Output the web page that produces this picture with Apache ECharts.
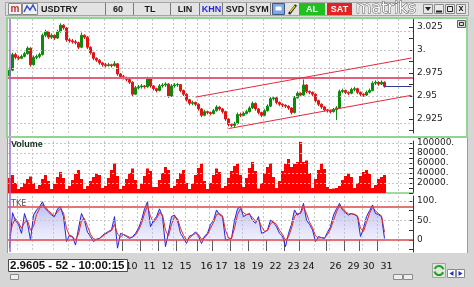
<!DOCTYPE html>
<html><head><meta charset="utf-8">
<script src="https://cdn.jsdelivr.net/npm/echarts@6/dist/echarts.min.js"></script>
<style>html,body{margin:0;padding:0;background:#d6d6d6}#c{width:474px;height:287px}</style>
</head><body><div id="c"></div>
<script>
// ---------- DATA ----------
// [open, close, low, high] per 60-min bar
const candles = [
[2.972,2.978,2.970,2.981],[2.978,2.995,2.977,2.997],[2.995,2.992,2.990,2.997],[2.992,2.991,2.989,2.994],
[2.991,2.993,2.990,2.995],[2.993,2.996,2.992,2.998],[2.996,3.002,2.995,3.004],[3.002,2.984,2.982,3.003],
[2.984,2.992,2.983,2.994],[2.992,2.993,2.990,2.995],[2.993,2.995,2.991,2.997],[2.995,3.016,2.994,3.018],
[3.016,3.020,3.014,3.022],[3.020,3.014,3.012,3.021],[3.014,3.016,3.012,3.018],[3.016,3.013,3.011,3.017],
[3.013,3.020,3.012,3.022],[3.020,3.027,3.019,3.029],[3.027,3.024,3.022,3.028],[3.024,3.011,3.009,3.025],
[3.011,3.010,3.008,3.013],[3.010,3.009,3.007,3.012],[3.009,3.008,3.006,3.011],[3.008,3.003,3.001,3.009],
[3.003,3.016,3.002,3.019],[3.016,3.014,3.012,3.017],[3.014,3.003,3.001,3.015],[3.003,2.997,2.995,3.004],
[2.997,2.991,2.989,2.998],[2.991,2.989,2.987,2.992],[2.989,2.986,2.984,2.990],[2.986,2.984,2.982,2.987],
[2.984,2.983,2.981,2.986],[2.983,2.984,2.982,2.986],[2.984,2.983,2.981,2.985],[2.983,2.985,2.982,2.988],
[2.985,2.974,2.972,2.986],[2.974,2.971,2.969,2.975],[2.971,2.970,2.968,2.973],[2.970,2.968,2.966,2.971],
[2.968,2.965,2.963,2.969],[2.965,2.952,2.950,2.966],[2.952,2.959,2.951,2.961],[2.959,2.960,2.957,2.962],
[2.960,2.961,2.958,2.963],[2.961,2.960,2.958,2.962],[2.960,2.969,2.959,2.971],[2.969,2.961,2.959,2.970],
[2.961,2.958,2.956,2.962],[2.958,2.956,2.954,2.959],[2.956,2.961,2.955,2.963],[2.961,2.962,2.959,2.964],
[2.962,2.963,2.960,2.965],[2.963,2.950,2.948,2.964],[2.950,2.961,2.949,2.963],[2.961,2.962,2.959,2.964],
[2.962,2.9625,2.960,2.964],[2.9625,2.956,2.954,2.963],[2.956,2.952,2.950,2.957],[2.952,2.946,2.944,2.953],
[2.946,2.942,2.940,2.947],[2.942,2.943,2.940,2.945],[2.943,2.941,2.939,2.944],[2.941,2.936,2.934,2.942],
[2.936,2.929,2.927,2.937],[2.929,2.933,2.928,2.935],[2.933,2.932,2.930,2.934],[2.932,2.931,2.929,2.933],
[2.931,2.934,2.930,2.936],[2.934,2.938,2.933,2.940],[2.938,2.936,2.934,2.939],[2.936,2.933,2.931,2.937],
[2.933,2.925,2.923,2.934],[2.925,2.919,2.917,2.926],[2.919,2.918,2.916,2.920],[2.918,2.920,2.916,2.922],
[2.920,2.930,2.919,2.932],[2.930,2.929,2.927,2.932],[2.929,2.931,2.928,2.933],[2.931,2.933,2.930,2.935],
[2.933,2.937,2.932,2.939],[2.937,2.942,2.936,2.944],[2.942,2.936,2.934,2.943],[2.936,2.932,2.930,2.937],
[2.932,2.929,2.927,2.933],[2.929,2.934,2.928,2.936],[2.934,2.939,2.933,2.941],[2.939,2.947,2.938,2.949],
[2.947,2.948,2.945,2.950],[2.948,2.943,2.941,2.949],[2.943,2.941,2.939,2.944],[2.941,2.940,2.938,2.942],
[2.940,2.939,2.937,2.941],[2.939,2.937,2.935,2.940],[2.937,2.932,2.930,2.938],[2.932,2.948,2.931,2.950],
[2.948,2.953,2.947,2.955],[2.953,2.951,2.949,2.954],[2.951,2.962,2.950,2.968],[2.962,2.955,2.953,2.963],
[2.955,2.954,2.952,2.956],[2.954,2.952,2.950,2.955],[2.952,2.945,2.943,2.953],[2.945,2.941,2.939,2.946],
[2.941,2.938,2.936,2.942],[2.938,2.935,2.933,2.939],[2.935,2.934,2.932,2.936],[2.934,2.933,2.931,2.935],
[2.933,2.935,2.932,2.937],[2.935,2.937,2.924,2.939],[2.937,2.955,2.936,2.957],[2.955,2.956,2.953,2.958],
[2.956,2.954,2.952,2.957],[2.954,2.953,2.951,2.955],[2.953,2.957,2.952,2.959],[2.957,2.958,2.955,2.960],
[2.958,2.954,2.952,2.959],[2.954,2.952,2.950,2.955],[2.952,2.951,2.949,2.953],[2.951,2.954,2.950,2.956],
[2.954,2.956,2.953,2.958],[2.956,2.964,2.955,2.966],[2.964,2.965,2.962,2.967],[2.965,2.963,2.961,2.966],
[2.963,2.965,2.962,2.967],[2.965,2.9605,2.959,2.966]
];
const volumes = [
30000,36000,20000,8000,12000,20000,28000,33000,20000,8000,16000,28000,36000,24000,8000,18000,32000,42000,30000,8000,
14000,26000,38000,46000,28000,8000,14000,24000,32000,39000,36000,10000,14000,30000,46000,59000,34000,8000,14000,28000,
40000,49000,26000,8000,18000,34000,49000,44000,12000,12000,26000,40000,52000,46000,10000,14000,28000,40000,46000,20000,
8000,18000,36000,50000,59000,24000,8000,20000,36000,49000,42000,10000,14000,30000,44000,54000,59000,36000,12000,30000,
50000,62000,44000,9000,20000,40000,52000,59000,32000,10000,24000,44000,58000,68000,52000,58000,62000,102000,62000,65000,
40000,10000,28000,46000,59000,48000,12000,8000,9000,10000,14000,26000,34000,39000,32000,10000,20000,34000,42000,46000,
38000,10000,16000,28000,32000,36000
];
const tke = [
-20,70,50,40,17,68,43,0,64,77,85,98,80,72,64,60,80,85,60,-4,
12,9,-13,30,68,50,20,9,-4,2,4,12,17,22,26,60,-21,17,14,9,
4,8,17,30,51,80,98,34,50,60,80,60,-17,20,60,64,50,17,5,-9,
10,13,21,10,-9,10,17,40,50,77,65,60,0,2,4,50,80,85,60,65,
68,50,43,60,17,20,26,51,45,34,17,10,-17,17,40,77,64,70,94,51,
40,26,-4,9,6,4,20,34,64,80,94,77,70,64,68,65,60,9,30,60,
75,90,68,65,60,4
];
const tkeSignal = [
10,40,55,45,30,45,50,25,35,65,80,90,85,75,68,62,72,80,70,30,
10,8,0,15,50,55,35,15,3,1,4,9,15,20,24,40,15,8,14,11,
7,7,13,25,42,68,88,60,45,55,70,65,25,10,40,60,55,30,12,0,
5,12,17,14,2,5,14,30,45,65,68,62,25,5,4,30,65,80,70,65,
66,58,48,52,35,22,24,42,46,40,25,14,0,8,30,60,68,68,85,68,
46,32,10,5,6,5,14,28,50,72,88,82,73,67,67,66,62,30,22,45,
68,84,75,67,62,20
];
const priceTicks = [2.925, 2.95, 2.975, 3, 3.025];
const priceTickMarks = [2.9125, 2.925, 2.9375, 2.95, 2.9625, 2.975, 2.9875, 3, 3.0125, 3.025];
const volumeTicks = [0, 20000, 40000, 60000, 80000, 100000];
const volumeTickMarks = [0, 10000, 20000, 30000, 40000, 50000, 60000, 70000, 80000, 90000, 100000];
const tkeTicks = [0, 50, 100];
const tkeTickMarks = [-25, 0, 25, 50, 75, 100];
const resistance = 2.969;
const lastPrice = 2.9605;
const channelUpper = [[62, 2.9488], [134, 2.9913]];
const channelLower = [[73, 2.9146], [134, 2.9508]];
const tkeLevels = [84, 0];
const dayTickIdx = [38, 44, 50, 56, 63, 68, 74, 80, 86, 92, 97, 106, 112, 117, 123];
const dayLabels = ['10','11','12','15','16','17','18','19','22','23','24','26','29','30','31'];
const gridIdx = [3, 8, 15, 20, 27, 32, 38, 43, 48, 55, 59, 63, 67, 73, 78, 85, 91, 97, 102, 107, 112, 118, 123, 130];
const statusText = '2.9605 - 52 - 10:00:15';

// ---------- CHART ----------
const chart = echarts.init(document.getElementById('c'), null, {width: 474, height: 287});
const SLOTS = candles.length + 9;
const cats = Array.from({length: SLOTS}, (_, i) => String(i));
const gridSet = new Set(gridIdx);
const labelMap = {};
dayTickIdx.forEach((k, j) => { labelMap[k] = dayLabels[j]; });
const fmt = v => v === 0 ? '0' : (Number.isInteger(v) ? v + '.' : String(+(+v).toFixed(4)));
const splitX = {show: true, interval: (i) => gridSet.has(i), lineStyle: {color: '#c6c6c6', type: [2, 2], width: 1}};
const dash = {color: '#c6c6c6', type: [2, 2], width: 1};
const axLabel = {fontSize: 9, fontFamily: 'DejaVu Sans', color: '#222', margin: 4};
const yBase = (idx, min, max, ticks, marks) => ({
  type: 'value', gridIndex: idx, position: 'right', min, max,
  axisLine: {show: true, lineStyle: {color: '#333'}},
  axisTick: {show: true, inside: true, length: 4, customValues: marks, lineStyle: {color: '#333'}},
  axisLabel: Object.assign({customValues: ticks, formatter: fmt}, axLabel),
  splitLine: {show: false}
});

const T = (x, y, text, o) => ({type: 'text', x, y, z: 100, silent: true,
  style: Object.assign({text, font: 'bold 9px "Liberation Sans"', fill: '#1a1a1a', align: 'center', verticalAlign: 'middle', textAlign: 'center', textVerticalAlign: 'middle'}, o || {})});
const R = (x, y, w, h, fill, stroke, z) => ({type: 'rect', z: z == null ? 99 : z, silent: true, shape: {x, y, width: w, height: h}, style: {fill: fill || null, stroke: stroke || null, lineWidth: 1}});
const L = (x1, y1, x2, y2, c, w, z) => ({type: 'line', z: z == null ? 99 : z, silent: true, shape: {x1, y1, x2, y2}, style: {stroke: c, lineWidth: w || 1}});
const P = (pts, fill, z) => ({type: 'polygon', z: z == null ? 100 : z, silent: true, shape: {points: pts}, style: {fill}});

const graphics = [
  R(8, 18, 459, 235, '#ffffff', null, -10),
  // toolbar
  R(0, 0, 474, 17, '#d9d9d9', null, 90),
  R(5.5, 2.5, 463, 13, '#e3e3e3', '#a5a5a5', 91),
  R(8.5, 3.5, 13, 11, '#f2f2f2', '#8a8a8a'),
  T(15, 9, 'm', {font: 'bold 10px "Liberation Sans"', fill: '#c03030'}),
  R(22.5, 3.5, 15, 11, '#f2f2f2', '#8a8a8a'),
  {type: 'polyline', z: 100, silent: true, shape: {points: [[24, 12], [27, 6], [30, 10], [33, 5], [36, 11]]}, style: {stroke: '#3050d0', lineWidth: 1.5, fill: null}},
  T(41, 9.5, 'USDTRY', {align: 'left', textAlign: 'left'}),
  L(105.5, 3, 105.5, 15, '#7a7a7a'), L(133.5, 3, 133.5, 15, '#7a7a7a'), L(170.5, 3, 170.5, 15, '#7a7a7a'),
  L(199.5, 3, 199.5, 15, '#7a7a7a'), L(222.5, 3, 222.5, 15, '#7a7a7a'), L(246.5, 3, 246.5, 15, '#7a7a7a'),
  L(270.5, 3, 270.5, 15, '#7a7a7a'),
  T(118, 9.5, '60'), T(150, 9.5, 'TL'), T(185, 9.5, 'LIN'), T(211.5, 9.5, 'KHN', {fill: '#2828e0'}),
  T(235, 9.5, 'SVD'), T(259, 9.5, 'SYM'),
  R(272.5, 3.5, 12, 11, '#7aa8e8', '#445580'),
  R(275.5, 6.5, 6, 4, '#ffffff', null),
  L(289, 14, 296, 5, '#222', 2.5), L(290, 12, 295, 6, '#e8d020', 1.2),
  R(299, 3, 26, 12, '#20c020', null), T(312, 9.5, 'AL', {fill: '#ffffff'}),
  R(327, 3, 25, 12, '#e02424', null), T(339.5, 9.5, 'SAT', {fill: '#ffffff'}),
  T(386, 8.5, 'matriks', {font: '16px "DejaVu Sans"', fill: '#fbfbfb', stroke: '#5a5a5a', lineWidth: 1}),
  R(423.5, 4.5, 9, 9, '#e8e8e8', '#8a8a8a'), P([[425, 7], [431, 7], [428, 11]], '#222'),
  R(434.5, 4.5, 9, 9, '#e8e8e8', '#8a8a8a'), L(436, 11.5, 442, 11.5, '#222', 2),
  R(445.5, 4.5, 9, 9, '#e8e8e8', '#8a8a8a'), R(447.5, 6.5, 5, 5, null, '#222'),
  R(456.5, 4.5, 9, 9, '#e8e8e8', '#8a8a8a'), T(461, 9, 'x', {font: 'bold 9px "Liberation Sans"'}),
  // panel frames
  L(7.5, 17, 7.5, 253, '#9a9a9a', 1, 40),
  {type: 'rect', z: 41, silent: true, shape: {x: 7, y: 18, width: 460, height: 119}, style: {fill: null, stroke: '#92d392', lineWidth: 2}},
  L(467.5, 137, 467.5, 253, '#9a9a9a', 1, 40),
  R(457.5, 20.5, 8, 7, '#dcdcdc', '#666'), R(459.5, 22.5, 4, 3, null, '#333'),
  T(11, 145, 'Volume', {align: 'left', textAlign: 'left', font: 'bold 9px "Liberation Sans"', fill: '#12301a'}),
  T(11, 204, 'TKE', {align: 'left', textAlign: 'left', font: '8px "DejaVu Sans"', fill: '#555'}),
  // bottom bar
  R(8.5, 259.5, 119, 12, '#ffffff', '#4a4a4a', 100),
  T(10, 266, statusText, {align: 'left', textAlign: 'left', font: 'bold 11.5px "Liberation Sans"', fill: '#111'}),
  R(10.5, 274.5, 8, 5, '#eeeeee', '#8a8a8a'),
  R(393.5, 274.5, 9, 5, '#eeeeee', '#8a8a8a'), R(403.5, 274.5, 9, 5, '#eeeeee', '#8a8a8a'),
  R(432.5, 263.5, 13, 14, '#dfe7df', '#a0a8a0'),
  {type: 'arc', z: 100, silent: true, shape: {cx: 439, cy: 270.5, r: 4.5, startAngle: 0.4, endAngle: 2.9}, style: {stroke: '#22a022', lineWidth: 2.2, fill: null}},
  {type: 'arc', z: 100, silent: true, shape: {cx: 439, cy: 270.5, r: 4.5, startAngle: 3.5, endAngle: 6.0}, style: {stroke: '#22a022', lineWidth: 2.2, fill: null}},
  R(447.5, 269.5, 8, 8, '#ffffff', '#8a8a8a'), P([[453.5, 271], [453.5, 276], [449.5, 273.5]], '#2030c0'),
  R(456.5, 269.5, 8, 8, '#ffffff', '#8a8a8a'), P([[458.5, 271], [458.5, 276], [462.5, 273.5]], '#2030c0')
];

const option = {
  animation: false,
  backgroundColor: '#d6d6d6',
  graphic: {elements: graphics},
  grid: [
    {left: 8, top: 19, width: 405, height: 114, containLabel: false, outerBoundsMode: 'none'},
    {left: 8, top: 141, width: 405, height: 52, containLabel: false, outerBoundsMode: 'none'},
    {left: 8, top: 196, width: 405, height: 56, containLabel: false, outerBoundsMode: 'none'},
    {left: 8, top: 19, width: 405, height: 233, containLabel: false, outerBoundsMode: 'none'}
  ],
  xAxis: [
    {type: 'category', gridIndex: 0, data: cats, axisLine: {show: false}, axisTick: {show: false}, axisLabel: {show: false}, splitLine: splitX},
    {type: 'category', gridIndex: 1, data: cats, axisLine: {show: true, lineStyle: {color: '#7fcf7f', width: 1.5}}, axisTick: {show: false}, axisLabel: {show: false}, splitLine: splitX},
    {type: 'category', gridIndex: 2, data: cats, offset: 8,
      axisLine: {show: false},
      axisTick: {show: true, interval: (i) => labelMap[i] !== undefined, length: 11, lineStyle: {color: '#333'}},
      axisLabel: {show: true, interval: (i) => labelMap[i] !== undefined, formatter: (v, i) => labelMap[i] || '',
        align: 'left', margin: 2, padding: [0, 0, 0, 2], fontSize: 9.5, fontFamily: 'DejaVu Sans', color: '#111'},
      splitLine: splitX},
    {type: 'category', gridIndex: 3, data: cats, show: false}
  ],
  yAxis: [
    yBase(0, 2.9098, 3.0337, priceTicks, priceTickMarks),
    yBase(1, 0, 104000, volumeTicks.slice(1), volumeTickMarks),
    yBase(2, -30.8, 112.8, tkeTicks, tkeTickMarks),
    {type: 'value', gridIndex: 3, min: 0, max: 1, show: false}
  ],
  series: [
    {type: 'line', xAxisIndex: 0, yAxisIndex: 0, data: [], silent: true, z: 1,
      markLine: {silent: true, symbol: 'none', label: {show: false}, lineStyle: dash, data: priceTicks.map(v => ({yAxis: v}))}},
    {type: 'candlestick', xAxisIndex: 0, yAxisIndex: 0, data: candles, barWidth: 2, z: 3,
      itemStyle: {color: '#0b8a0b', color0: '#e01414', borderColor: '#0b8a0b', borderColor0: '#e01414', borderWidth: 1},
      markLine: {silent: true, symbol: 'none', label: {show: false},
        data: [
          {yAxis: resistance, lineStyle: {color: '#e2607a', width: 2, type: 'solid'}},
          [{coord: channelUpper[0]}, {coord: channelUpper[1], lineStyle: {color: '#e8283c', width: 1, type: 'solid'}}],
          [{coord: channelLower[0]}, {coord: channelLower[1], lineStyle: {color: '#e8283c', width: 1, type: 'solid'}}],
          [{coord: [candles.length - 1, lastPrice]}, {coord: [SLOTS - 1, lastPrice], lineStyle: {color: '#2a3a9a', width: 1, type: 'solid'}}]
        ]}},
    {type: 'line', xAxisIndex: 1, yAxisIndex: 1, data: [], silent: true, z: 1,
      markLine: {silent: true, symbol: 'none', label: {show: false}, lineStyle: dash, data: volumeTicks.slice(1).map(v => ({yAxis: v}))}},
    {type: 'bar', xAxisIndex: 1, yAxisIndex: 1, data: volumes, barCategoryGap: '0%', itemStyle: {color: '#ff0000'}, z: 3},
    {type: 'line', xAxisIndex: 2, yAxisIndex: 2, data: [], silent: true, z: 1,
      markLine: {silent: true, symbol: 'none', label: {show: false}, lineStyle: dash, data: [{yAxis: 50}, {yAxis: 100}]}},
    {type: 'line', xAxisIndex: 2, yAxisIndex: 2, data: tke, symbol: 'none', z: 3,
      lineStyle: {color: '#2424dc', width: 1},
      areaStyle: {origin: 'start', color: {type: 'linear', x: 0, y: 0, x2: 0, y2: 1,
        colorStops: [{offset: 0, color: 'rgba(120,120,228,0.75)'}, {offset: 0.7, color: 'rgba(200,200,245,0.5)'}, {offset: 1, color: 'rgba(255,255,255,0.2)'}]}}},
    {type: 'line', xAxisIndex: 2, yAxisIndex: 2, data: tkeSignal, symbol: 'none', z: 4,
      lineStyle: {color: '#e02828', width: 1}},
    {type: 'line', xAxisIndex: 2, yAxisIndex: 2, data: [], silent: true, z: 5,
      markLine: {silent: true, symbol: 'none', label: {show: false}, lineStyle: {color: '#d84a4a', width: 1.5, type: 'solid'}, data: tkeLevels.map(v => ({yAxis: v}))}},
    {type: 'line', xAxisIndex: 3, yAxisIndex: 3, data: [], silent: true, z: 6,
      markLine: {silent: true, symbol: 'none', label: {show: false}, lineStyle: {color: '#9a6ccc', width: 1.5, type: 'solid'}, data: [{xAxis: 0}]}}
  ]
};
chart.setOption(option);
</script></body></html>
